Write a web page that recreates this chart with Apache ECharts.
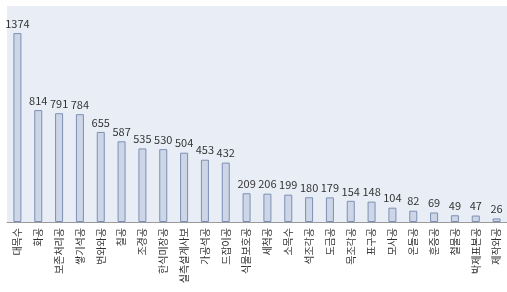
<!DOCTYPE html>
<html lang="ko">
<head>
<meta charset="UTF-8">
<title>chart</title>
<script src="https://cdn.jsdelivr.net/npm/echarts@6/dist/echarts.min.js"></script>
<style>
  html, body { margin: 0; padding: 0; background: #fff; }
  #main { width: 507px; height: 292px; }
</style>
</head>
<body>
<div id="main"></div>
<script>
var categories = ['대목수', '화공', '보존처리공', '쌓기석공', '번와와공', '칠공', '조경공', '한식미장공',
  '실측설계사보', '가공석공', '드잡이공', '식물보호공', '세척공', '소목수', '석조각공', '도금공',
  '목조각공', '표구공', '모사공', '온돌공', '훈증공', '철물공', '박제표본공', '제작와공'];
var counts = [1374, 814, 791, 784, 655, 587, 535, 530, 504, 453, 432, 209, 206, 199, 180, 179,
  154, 148, 104, 82, 69, 49, 47, 26];

var chart = echarts.init(document.getElementById('main'));
chart.setOption({
  animation: false,
  grid: {
    left: 7, right: -5, top: 6, bottom: 70,
    show: true, backgroundColor: '#e9edf5', borderWidth: 0
  },
  xAxis: {
    type: 'category',
    data: categories,
    axisLine: { lineStyle: { color: '#9a9a9a' } },
    axisTick: { show: false },
    axisLabel: {
      rotate: 90, interval: 0, margin: 6,
      fontSize: 10, color: '#333',
      fontFamily: 'Noto Sans CJK KR'
    }
  },
  yAxis: {
    type: 'value', min: 0, max: 1571, show: false,
    splitLine: { show: false }
  },
  series: [{
    type: 'bar',
    data: counts,
    barWidth: 8,
    itemStyle: { color: '#cdd6e7', borderColor: '#7d8fb3', borderWidth: 1 },
    label: {
      show: true, position: 'top', distance: 4,
      fontSize: 11, color: '#333', fontFamily: 'Noto Sans CJK KR'
    }
  }]
});
</script>
</body>
</html>
